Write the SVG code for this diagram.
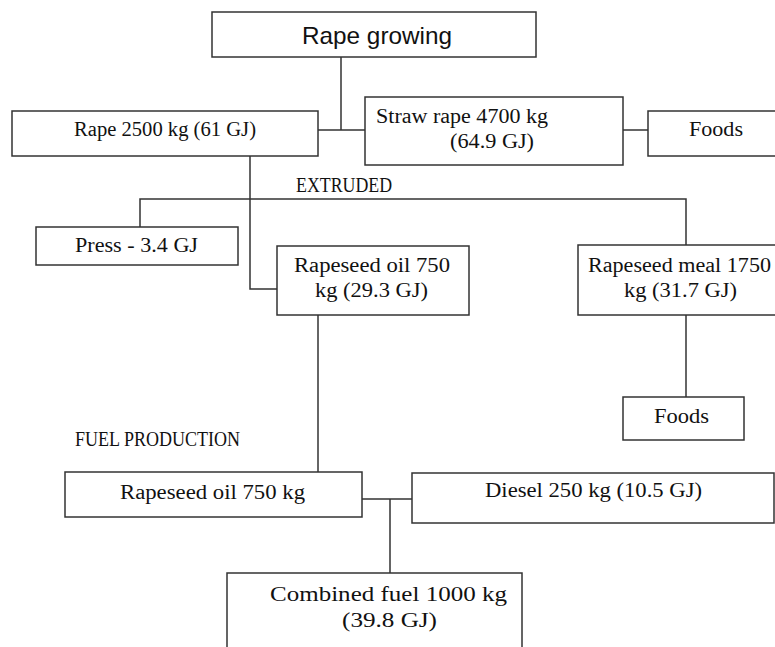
<svg xmlns="http://www.w3.org/2000/svg" width="775" height="647" viewBox="0 0 775 647">
<style>
.box{fill:#fff;stroke:#333;stroke-width:1.5}
.ln{fill:none;stroke:#333;stroke-width:1.5}
.t{font-family:"Liberation Serif","Times New Roman",serif;fill:#111;font-size:20px}
.s{font-family:"Liberation Sans",Arial,sans-serif;fill:#111;font-size:24px}
</style>
<rect width="775" height="647" fill="#fff"/>
<g id="connectors">
<path class="ln" d="M341 57V130M318 130H365"/>
<path class="ln" d="M623 130H648"/>
<path class="ln" d="M250 156V289H277"/>
<path class="ln" d="M140 227V199H686V245"/>
<path class="ln" d="M686 315V397"/>
<path class="ln" d="M318 315V473"/>
<path class="ln" d="M362 499H412M390 499V573"/>
</g>
<g id="rape-growing">
<rect class="box" x="212" y="12" width="324" height="45"/>
<text class="s" x="302" y="44" textLength="150" lengthAdjust="spacingAndGlyphs">Rape growing</text>
</g>
<g id="rape">
<rect class="box" x="12" y="111" width="306" height="45"/>
<text class="t" x="74" y="136" font-size="21" textLength="182" lengthAdjust="spacingAndGlyphs">Rape 2500 kg (61 GJ)</text>
</g>
<g id="straw-rape">
<rect class="box" x="365" y="97" width="258" height="68"/>
<text class="t" x="376" y="123" font-size="21" textLength="172" lengthAdjust="spacingAndGlyphs">Straw rape 4700 kg</text>
<text class="t" x="450" y="148" font-size="21" textLength="84" lengthAdjust="spacingAndGlyphs">(64.9 GJ)</text>
</g>
<g id="foods-top">
<rect class="box" x="648" y="111" width="140" height="45"/>
<text class="t" x="689" y="136" font-size="21" textLength="54" lengthAdjust="spacingAndGlyphs">Foods</text>
</g>
<g id="extruded-label">
<text class="t" x="296" y="192" font-size="18.5" textLength="96" lengthAdjust="spacingAndGlyphs">EXTRUDED</text>
</g>
<g id="press">
<rect class="box" x="36" y="227" width="202" height="38"/>
<text class="t" x="75" y="252" font-size="21" textLength="123" lengthAdjust="spacingAndGlyphs">Press - 3.4 GJ</text>
</g>
<g id="rapeseed-oil-1">
<rect class="box" x="277" y="246" width="192" height="69"/>
<text class="t" x="294" y="272" font-size="20.5" textLength="156" lengthAdjust="spacingAndGlyphs">Rapeseed oil 750</text>
<text class="t" x="315" y="297" font-size="20.5" textLength="113" lengthAdjust="spacingAndGlyphs">kg (29.3 GJ)</text>
</g>
<g id="rapeseed-meal">
<rect class="box" x="578" y="245" width="210" height="70"/>
<text class="t" x="588" y="272" font-size="21" textLength="183" lengthAdjust="spacingAndGlyphs">Rapeseed meal 1750</text>
<text class="t" x="624" y="297" font-size="21" textLength="113" lengthAdjust="spacingAndGlyphs">kg (31.7 GJ)</text>
</g>
<g id="foods-bottom">
<rect class="box" x="623" y="397" width="121" height="43"/>
<text class="t" x="654" y="423" font-size="21" textLength="55" lengthAdjust="spacingAndGlyphs">Foods</text>
</g>
<g id="fuel-production-label">
<text class="t" x="75" y="446" font-size="18.5" textLength="165" lengthAdjust="spacingAndGlyphs">FUEL PRODUCTION</text>
</g>
<g id="rapeseed-oil-2">
<rect class="box" x="65" y="472" width="297" height="45"/>
<text class="t" x="120" y="499" font-size="21.5" textLength="185" lengthAdjust="spacingAndGlyphs">Rapeseed oil 750 kg</text>
</g>
<g id="diesel">
<rect class="box" x="412" y="473" width="362" height="50"/>
<text class="t" x="485" y="497" font-size="21" textLength="217" lengthAdjust="spacingAndGlyphs">Diesel 250 kg (10.5 GJ)</text>
</g>
<g id="combined-fuel">
<rect class="box" x="227" y="573" width="295" height="90"/>
<text class="t" x="270" y="601" font-size="24" textLength="237" lengthAdjust="spacingAndGlyphs">Combined fuel 1000 kg</text>
<text class="t" x="342" y="627" font-size="24" textLength="95" lengthAdjust="spacingAndGlyphs">(39.8 GJ)</text>
</g>
</svg>
